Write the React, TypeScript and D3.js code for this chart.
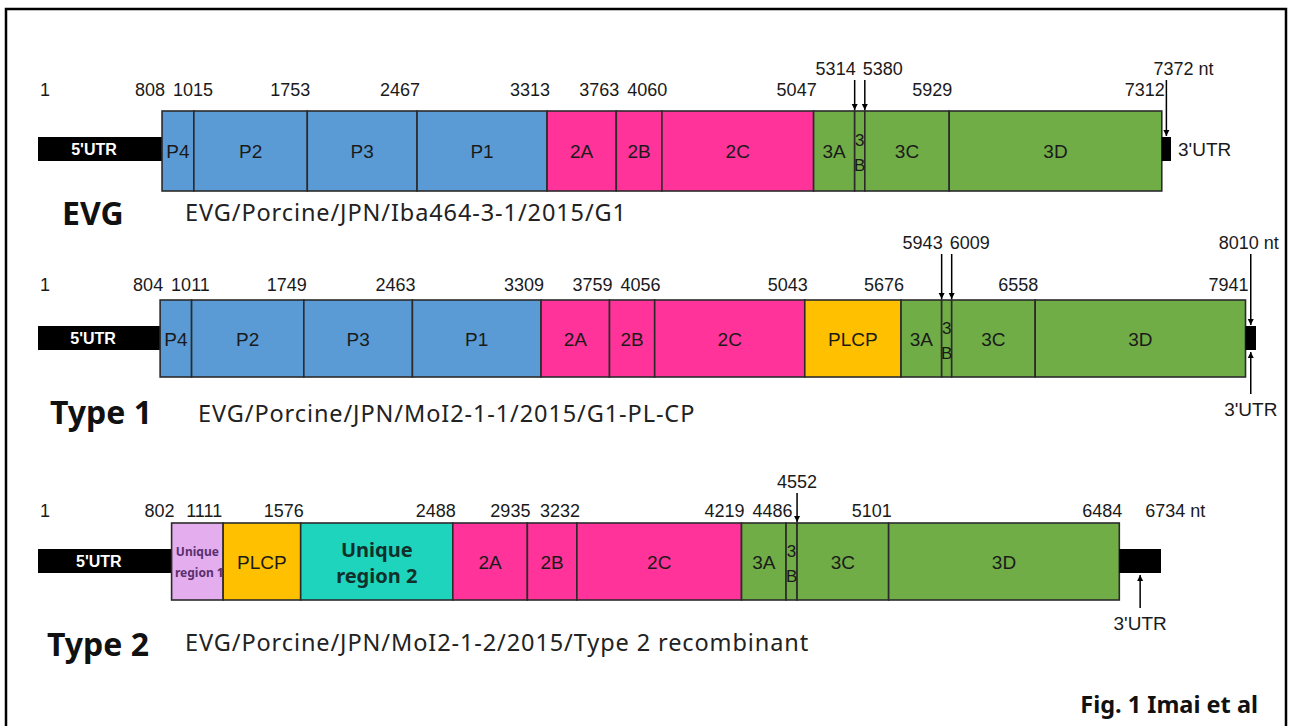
import * as d3 from "d3";

// genome maps (nt positions of each region boundary)
const rowTitles = ["EVG", "Type 1", "Type 2"];
const strainNames = [
  "EVG/Porcine/JPN/Iba464-3-1/2015/G1",
  "EVG/Porcine/JPN/MoI2-1-1/2015/G1-PL-CP",
  "EVG/Porcine/JPN/MoI2-1-2/2015/Type 2 recombinant",
];

const evgBounds = [1, 808, 1015, 1753, 2467, 3313, 3763, 4060, 5047, 5314, 5380, 5929, 7312, 7372];
const evgRegions = ["5'UTR", "P4", "P2", "P3", "P1", "2A", "2B", "2C", "3A", "3B", "3C", "3D", "3'UTR"];
const evgCallouts = [5314, 5380, 7372];

const type1Bounds = [1, 804, 1011, 1749, 2463, 3309, 3759, 4056, 5043, 5676, 5943, 6009, 6558, 7941, 8010];
const type1Regions = ["5'UTR", "P4", "P2", "P3", "P1", "2A", "2B", "2C", "PLCP", "3A", "3B", "3C", "3D", "3'UTR"];
const type1Callouts = [5943, 6009, 8010];

const type2Bounds = [1, 802, 1111, 1576, 2488, 2935, 3232, 4219, 4486, 4552, 5101, 6484, 6734];
const type2Regions = ["5'UTR", "Unique region 1", "PLCP", "Unique region 2", "2A", "2B", "2C", "3A", "3B", "3C", "3D", "3'UTR"];
const type2Callouts = [4552];

const kinds = ["utr", "P1", "P2", "P3", "plcp", "u1", "u2"];
const kindColors = ["#000000", "#5B9BD5", "#FF3399", "#70AD47", "#FFC000", "#E4ADEE", "#1ED4BC"];
const color = d3.scaleOrdinal<string, string>().domain(kinds).range(kindColors);

const kindOf = (name: string) => {
  if (name.includes("UTR")) return "utr";
  if (name === "PLCP") return "plcp";
  if (name === "Unique region 1") return "u1";
  if (name === "Unique region 2") return "u2";
  if (name[0] === "P") return "P1";
  if (name[0] === "2") return "P2";
  return "P3";
};

const rows = [
  { bounds: evgBounds, regions: evgRegions, callouts: evgCallouts },
  { bounds: type1Bounds, regions: type1Regions, callouts: type1Callouts },
  { bounds: type2Bounds, regions: type2Regions, callouts: type2Callouts },
];

// layout of each row on the page
const layout = [
  { top: 111, h: 80, x0: 38, x1: 1171, numY: 96, callY: 75, titleX: 62, titleY: 225, subX: 185, subY: 221, utr: "right", utrY: 0, ntAnchor: "start", ntDx: -13, ntArrow: true },
  { top: 300, h: 77, x0: 38, x1: 1256, numY: 291, callY: 249, titleX: 50, titleY: 424, subX: 198, subY: 422, utr: "below", utrY: 416, ntAnchor: "end", ntDx: 28, ntArrow: true },
  { top: 523, h: 77, x0: 38, x1: 1161, numY: 517, callY: 488, titleX: 47, titleY: 656, subX: 185, subY: 651, utr: "below", utrY: 630, ntAnchor: "start", ntDx: 5, ntArrow: false },
];

const numFont = "'Liberation Sans', Arial, sans-serif";
const txtFont = "'Noto Sans', 'Open Sans', sans-serif";
const digitW = 10; // approx width of one digit at 18px

function GenomeRow({ row, lay, title, strain }: any) {
  const x = d3.scaleLinear().domain([1, row.bounds[row.bounds.length - 1]]).range([lay.x0, lay.x1]);
  const n = row.regions.length;
  const barTop = lay.top + 26;
  const barH = 24;
  const boxMid = lay.top + lay.h / 2;
  const last = row.bounds[n];
  const utrMid = (x(row.bounds[n - 1]) + x(last)) / 2;

  // place the plain boundary numbers, pushing a label right when it would run into the one before
  const plain: { key: number; label: string; start: number }[] = [];
  let prevEnd = -Infinity;
  row.bounds.forEach((pos: number, i: number) => {
    if (i === row.bounds.length - 1 || row.callouts.includes(pos)) return;
    const label = `${pos}`;
    const w = label.length * digitW;
    let start = i === 0 ? x(pos) + 2 : x(pos) + 3 - w;
    if (start < prevEnd + 8) start = prevEnd + 8;
    prevEnd = start + w;
    plain.push({ key: i, label, start });
  });

  return (
    <g>
      {row.regions.map((name: string, i: number) => {
        const a = x(row.bounds[i]);
        const b = x(row.bounds[i + 1]);
        const isUtr = kindOf(name) === "utr";
        return (
          <rect
            key={name + i}
            x={a}
            y={isUtr ? barTop : lay.top}
            width={b - a}
            height={isUtr ? barH : lay.h}
            fill={color(kindOf(name))}
            stroke={isUtr ? "#000" : "#2b2b2b"}
            strokeWidth={isUtr ? 0 : 1.6}
          />
        );
      })}
      {row.regions.map((name: string, i: number) => {
        const cx = (x(row.bounds[i]) + x(row.bounds[i + 1])) / 2;
        if (name === "5'UTR")
          return (
            <text key={"l" + i} x={cx - 6} y={barTop + barH / 2 + 6} textAnchor="middle" fill="#fff" fontSize={16} fontWeight="bold" fontFamily={numFont}>
              5'UTR
            </text>
          );
        if (name === "3'UTR") return null;
        if (name === "3B")
          return (
            <text key={"l" + i} textAnchor="middle" fill="#1a1a1a" fontSize={17} fontFamily={numFont}>
              <tspan x={cx} y={boxMid - 5}>3</tspan>
              <tspan x={cx} y={boxMid + 20}>B</tspan>
            </text>
          );
        if (name === "Unique region 1")
          return (
            <text key={"l" + i} textAnchor="middle" fill="#5a2f6e" fontSize={12} fontWeight="bold" fontFamily={txtFont}>
              <tspan x={cx} y={boxMid - 6}>Unique</tspan>
              <tspan x={cx + 2} y={boxMid + 15}>region 1</tspan>
            </text>
          );
        if (name === "Unique region 2")
          return (
            <text key={"l" + i} textAnchor="middle" fill="#10302c" fontSize={20} fontWeight="bold" fontFamily={txtFont}>
              <tspan x={cx} y={boxMid - 5}>Unique</tspan>
              <tspan x={cx} y={boxMid + 21}>region 2</tspan>
            </text>
          );
        return (
          <text key={"l" + i} x={cx} y={boxMid + 7} textAnchor="middle" fill="#1a1a1a" fontSize={19} fontFamily={numFont}>
            {name}
          </text>
        );
      })}
      {plain.map((p) => (
        <text key={"n" + p.key} x={p.start} y={lay.numY} fontSize={18} fontFamily={numFont} fill="#1a1a1a">
          {p.label}
        </text>
      ))}
      {row.bounds.map((pos: number, i: number) => {
        const px = x(pos);
        const isLast = i === row.bounds.length - 1;
        const called = row.callouts.includes(pos);
        if (isLast) {
          const ax = utrMid;
          return (
            <g key={"c" + i}>
              <text x={ax + lay.ntDx} y={lay.ntArrow ? lay.callY : lay.numY} textAnchor={lay.ntAnchor} fontSize={18} fontFamily={numFont} fill="#1a1a1a">
                {`${pos} nt`}
              </text>
              {lay.ntArrow && (
                <line x1={ax} x2={ax} y1={lay.callY + 5} y2={barTop - 1} stroke="#000" strokeWidth={1.5} markerEnd="url(#ah)" />
              )}
            </g>
          );
        }
        if (!called) return null;
        const prevCalled = row.callouts.includes(row.bounds[i - 1]);
        const nextCalled = row.callouts.includes(row.bounds[i + 1]) && i + 1 < row.bounds.length - 1;
        const anchor = prevCalled ? "start" : nextCalled ? "end" : "middle";
        const tx = prevCalled ? px - 2 : nextCalled ? px + 1 : px;
        return (
          <g key={"c" + i}>
            <text x={tx} y={lay.callY} textAnchor={anchor} fontSize={18} fontFamily={numFont} fill="#1a1a1a">
              {pos}
            </text>
            <line x1={px} x2={px} y1={lay.callY + 5} y2={lay.top - 1} stroke="#000" strokeWidth={1.5} markerEnd="url(#ah)" />
          </g>
        );
      })}
      {lay.utr === "right" ? (
        <text x={x(last) + 7} y={barTop + barH / 2 + 7} fontSize={19} fontFamily={numFont} fill="#1a1a1a">
          3'UTR
        </text>
      ) : (
        <g>
          <text x={utrMid} y={lay.utrY} textAnchor="middle" fontSize={19} fontFamily={numFont} fill="#1a1a1a">
            3'UTR
          </text>
          <line x1={utrMid} x2={utrMid} y1={lay.utrY - 22} y2={barTop + barH + 2} stroke="#000" strokeWidth={1.5} markerEnd="url(#ah)" />
        </g>
      )}
      <text x={lay.titleX} y={lay.titleY} fontSize={32} fontWeight="bold" fontFamily={txtFont} fill="#111">
        {title}
      </text>
      <text x={lay.subX} y={lay.subY} fontSize={23.5} letterSpacing={0.9} fontFamily={txtFont} fill="#222">
        {strain}
      </text>
    </g>
  );
}

export default function App() {
  const width = 1291;
  const height = 726;
  return (
    <div style={{ position: "absolute", left: 0, top: 0 }}>
      <svg width={width} height={height} style={{ display: "block", background: "#fff" }}>
        <defs>
          <marker id="ah" viewBox="0 0 10 10" refX={10} refY={5} markerWidth={6} markerHeight={7} markerUnits="userSpaceOnUse" orient="auto">
            <path d="M0,0 L10,5 L0,10 z" fill="#000" />
          </marker>
        </defs>
        <path d={`M6,${height} V9 H1286 V${height}`} fill="none" stroke="#000" strokeWidth={2.5} />
        {rows.map((row, i) => (
          <GenomeRow key={rowTitles[i]} row={row} lay={layout[i]} title={rowTitles[i]} strain={strainNames[i]} />
        ))}
        <text x={1258} y={713} textAnchor="end" fontSize={23.5} fontWeight="bold" fontFamily={txtFont} fill="#111">
          Fig. 1 Imai et al
        </text>
      </svg>
    </div>
  );
}
